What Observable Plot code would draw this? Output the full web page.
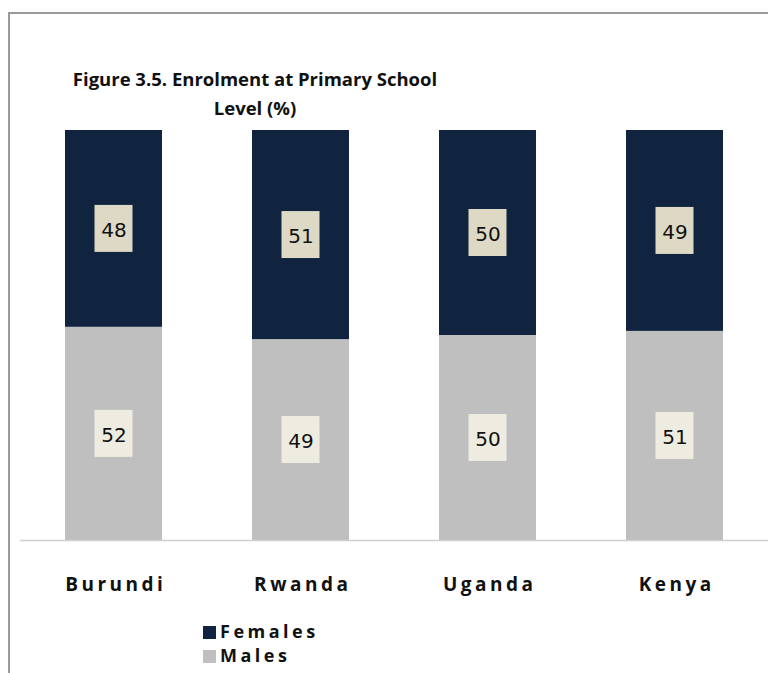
<!DOCTYPE html>
<html>
<head>
<meta charset="utf-8">
<script src="https://cdn.jsdelivr.net/npm/d3@7"></script>
<script src="https://cdn.jsdelivr.net/npm/@observablehq/plot@0.6"></script>
<style>
  html, body { margin: 0; padding: 0; background: #fff; }
  #wrap { position: relative; width: 768px; height: 673px; overflow: hidden; font-family: "Open Sans", sans-serif; }
  #frame { position: absolute; left: 8px; top: 12px; width: 800px; height: 700px; border-top: 2px solid #9a9a9a; border-left: 2px solid #9a9a9a; }
  #title { position: absolute; left: 48px; width: 414px; top: 64px; text-align: center; font-weight: 700; font-size: 18.5px; line-height: 29px; letter-spacing: 0px; color: #111; }
  #legend { position: absolute; left: 203px; top: 619px; font-weight: 700; font-size: 18px; letter-spacing: 3.5px; color: #111; line-height: 24px; }
  #legend .sw { display: inline-block; width: 13px; height: 13px; margin-right: 4px; vertical-align: -1px; }
  #chart { position: absolute; left: 0; top: 0; }
  #chart svg g[aria-label="x-axis tick label"] text { letter-spacing: 3.5px; }
</style>
</head>
<body>
<div id="wrap">
  <div id="frame"></div>
  <div id="chart"></div>
  <div id="title">Figure 3.5. Enrolment at Primary School<br>Level (%)</div>
  <div id="legend"></div>
</div>
<script>
const countries = ["Burundi", "Rwanda", "Uganda", "Kenya"];
const males = [52, 49, 50, 51];
const females = [48, 51, 50, 49];
const seriesNames = ["Females", "Males"];
const seriesColors = ["#10243f", "#bfbfbf"];
const boxColors = ["#ddd9c4", "#eeece1"];

const rows = [];
countries.forEach((c, i) => {
  rows.push({country: c, series: "Males", y1: 0, y2: males[i], value: males[i]});
  rows.push({country: c, series: "Females", y1: males[i], y2: males[i] + females[i], value: females[i]});
});
rows.forEach(r => { r.mid = (r.y1 + r.y2) / 2; });

const halfBox = 5.73; // half of label box height in percent units
const chart = Plot.plot({
  width: 768,
  height: 673,
  marginLeft: 20,
  marginRight: 0,
  marginTop: 130,
  marginBottom: 133,
  style: {fontFamily: "Open Sans, sans-serif", background: "transparent"},
  x: {domain: countries, paddingInner: 0.48, paddingOuter: 0.24, axis: null, label: null},
  y: {domain: [0, 100], axis: null},
  color: {domain: seriesNames, range: seriesColors},
  marks: [
    Plot.barY(rows, {x: "country", y1: "y1", y2: "y2", fill: "series"}),
    Plot.barY(rows, {x: "country", y1: d => d.mid - halfBox, y2: d => d.mid + halfBox, fill: d => d.series === "Females" ? boxColors[0] : boxColors[1], insetLeft: 29.5, insetRight: 29.5}),
    Plot.text(rows, {x: "country", y: d => d.mid - 0.4, text: d => String(d.value), fontSize: 20, fill: "#111", fontFamily: "DejaVu Sans, sans-serif"}),
    Plot.ruleY([0], {stroke: "#cfcfcf", strokeWidth: 1.5}),
    Plot.axisX({label: null, tickSize: 0, tickPadding: 37, fontSize: 19, fontWeight: "bold", fill: "#111", dx: 1.75})
  ]
});
document.getElementById("chart").appendChild(chart);

const legend = document.getElementById("legend");
seriesNames.forEach((s, i) => {
  const row = document.createElement("div");
  row.innerHTML = `<span class="sw" style="background:${seriesColors[i]}"></span>${s}`;
  legend.appendChild(row);
});
</script>
</body>
</html>
